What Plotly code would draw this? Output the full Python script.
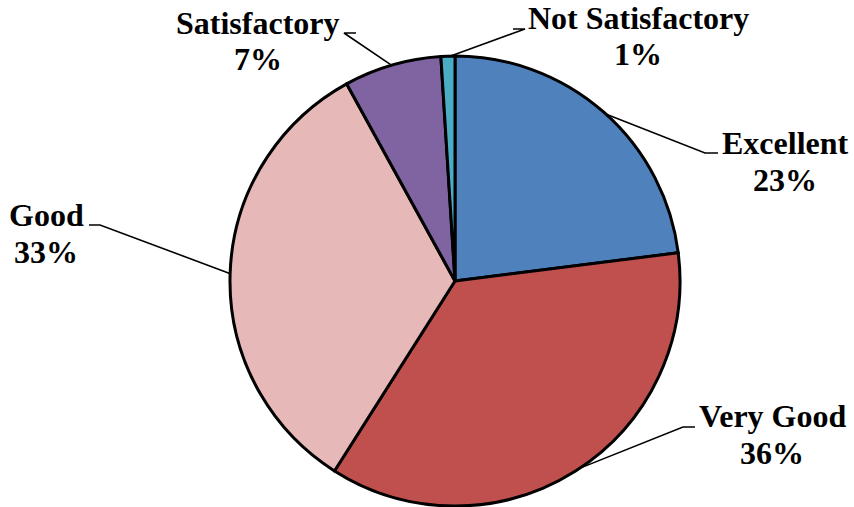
import math
import plotly.graph_objects as go

# ---- data ----
categories = ["Excellent", "Very Good", "Good", "Satisfactory", "Not Satisfactory"]
percentages = [23, 36, 33, 7, 1]
colors = ["#4F81BD", "#C0504D", "#E6B9B8", "#8064A2", "#4BACC6"]

# ---- layout (pixels) ----
W, H = 854, 507
CX, CY, R = 455, 281, 225
# label: x centre, y centre of name line, y centre of percent line
label_pos = [(785, 143, 180), (772, 416, 453), (46, 215, 252), (258, 23, 59), (638, 18, 54)]
# horizontal leader segment (x_outer, x_elbow, y)
label_seg = [(718, 705, 153), (695, 683, 427), (89, 100, 225), (356, 344, 33), (513, 525, 29)]

FONT = "Times New Roman"
FSIZE = 32

fig = go.Figure()
fig.add_trace(go.Pie(
    labels=categories,
    values=percentages,
    sort=False,
    direction="clockwise",
    rotation=0,
    marker=dict(colors=colors, line=dict(color="black", width=3)),
    textinfo="none",
    hoverinfo="label+percent",
    showlegend=False,
    domain=dict(x=[(CX - R) / W, (CX + R) / W], y=[1 - (CY + R) / H, 1 - (CY - R) / H]),
))

# leader lines from slice mid-angle on the rim to the labels
total = sum(percentages)
cum = 0
for i, v in enumerate(percentages):
    mid = (cum + v / 2) / total * 2 * math.pi
    cum += v
    ex = CX + (R - 1) * math.sin(mid)
    ey = CY - (R - 1) * math.cos(mid)
    x_out, x_elb, sy = label_seg[i]
    fig.add_trace(go.Scatter(
        x=[ex, x_elb, x_out], y=[ey, sy, sy], mode="lines",
        line=dict(color="black", width=1.6), hoverinfo="skip", showlegend=False,
        xaxis="x", yaxis="y",
    ))
    tx, ty1, ty2 = label_pos[i]
    for txt, ty in ((categories[i], ty1), (f"{v}%", ty2)):
        fig.add_annotation(
            x=tx, y=ty, xref="x", yref="y", showarrow=False,
            text=f"<b>{txt}</b>", align="center",
            xanchor="center", yanchor="middle",
            font=dict(family=FONT, size=FSIZE, color="black"),
        )

fig.update_layout(
    width=W, height=H,
    margin=dict(l=0, r=0, t=0, b=0),
    paper_bgcolor="white", plot_bgcolor="rgba(0,0,0,0)",
    font=dict(family=FONT),
    xaxis=dict(range=[0, W], visible=False, fixedrange=True, domain=[0, 1]),
    yaxis=dict(range=[H, 0], visible=False, fixedrange=True, domain=[0, 1]),
)

fig.write_html("out.html", config={"displayModeBar": False},
               post_script="document.body.style.margin='0';document.body.style.padding='0';")
